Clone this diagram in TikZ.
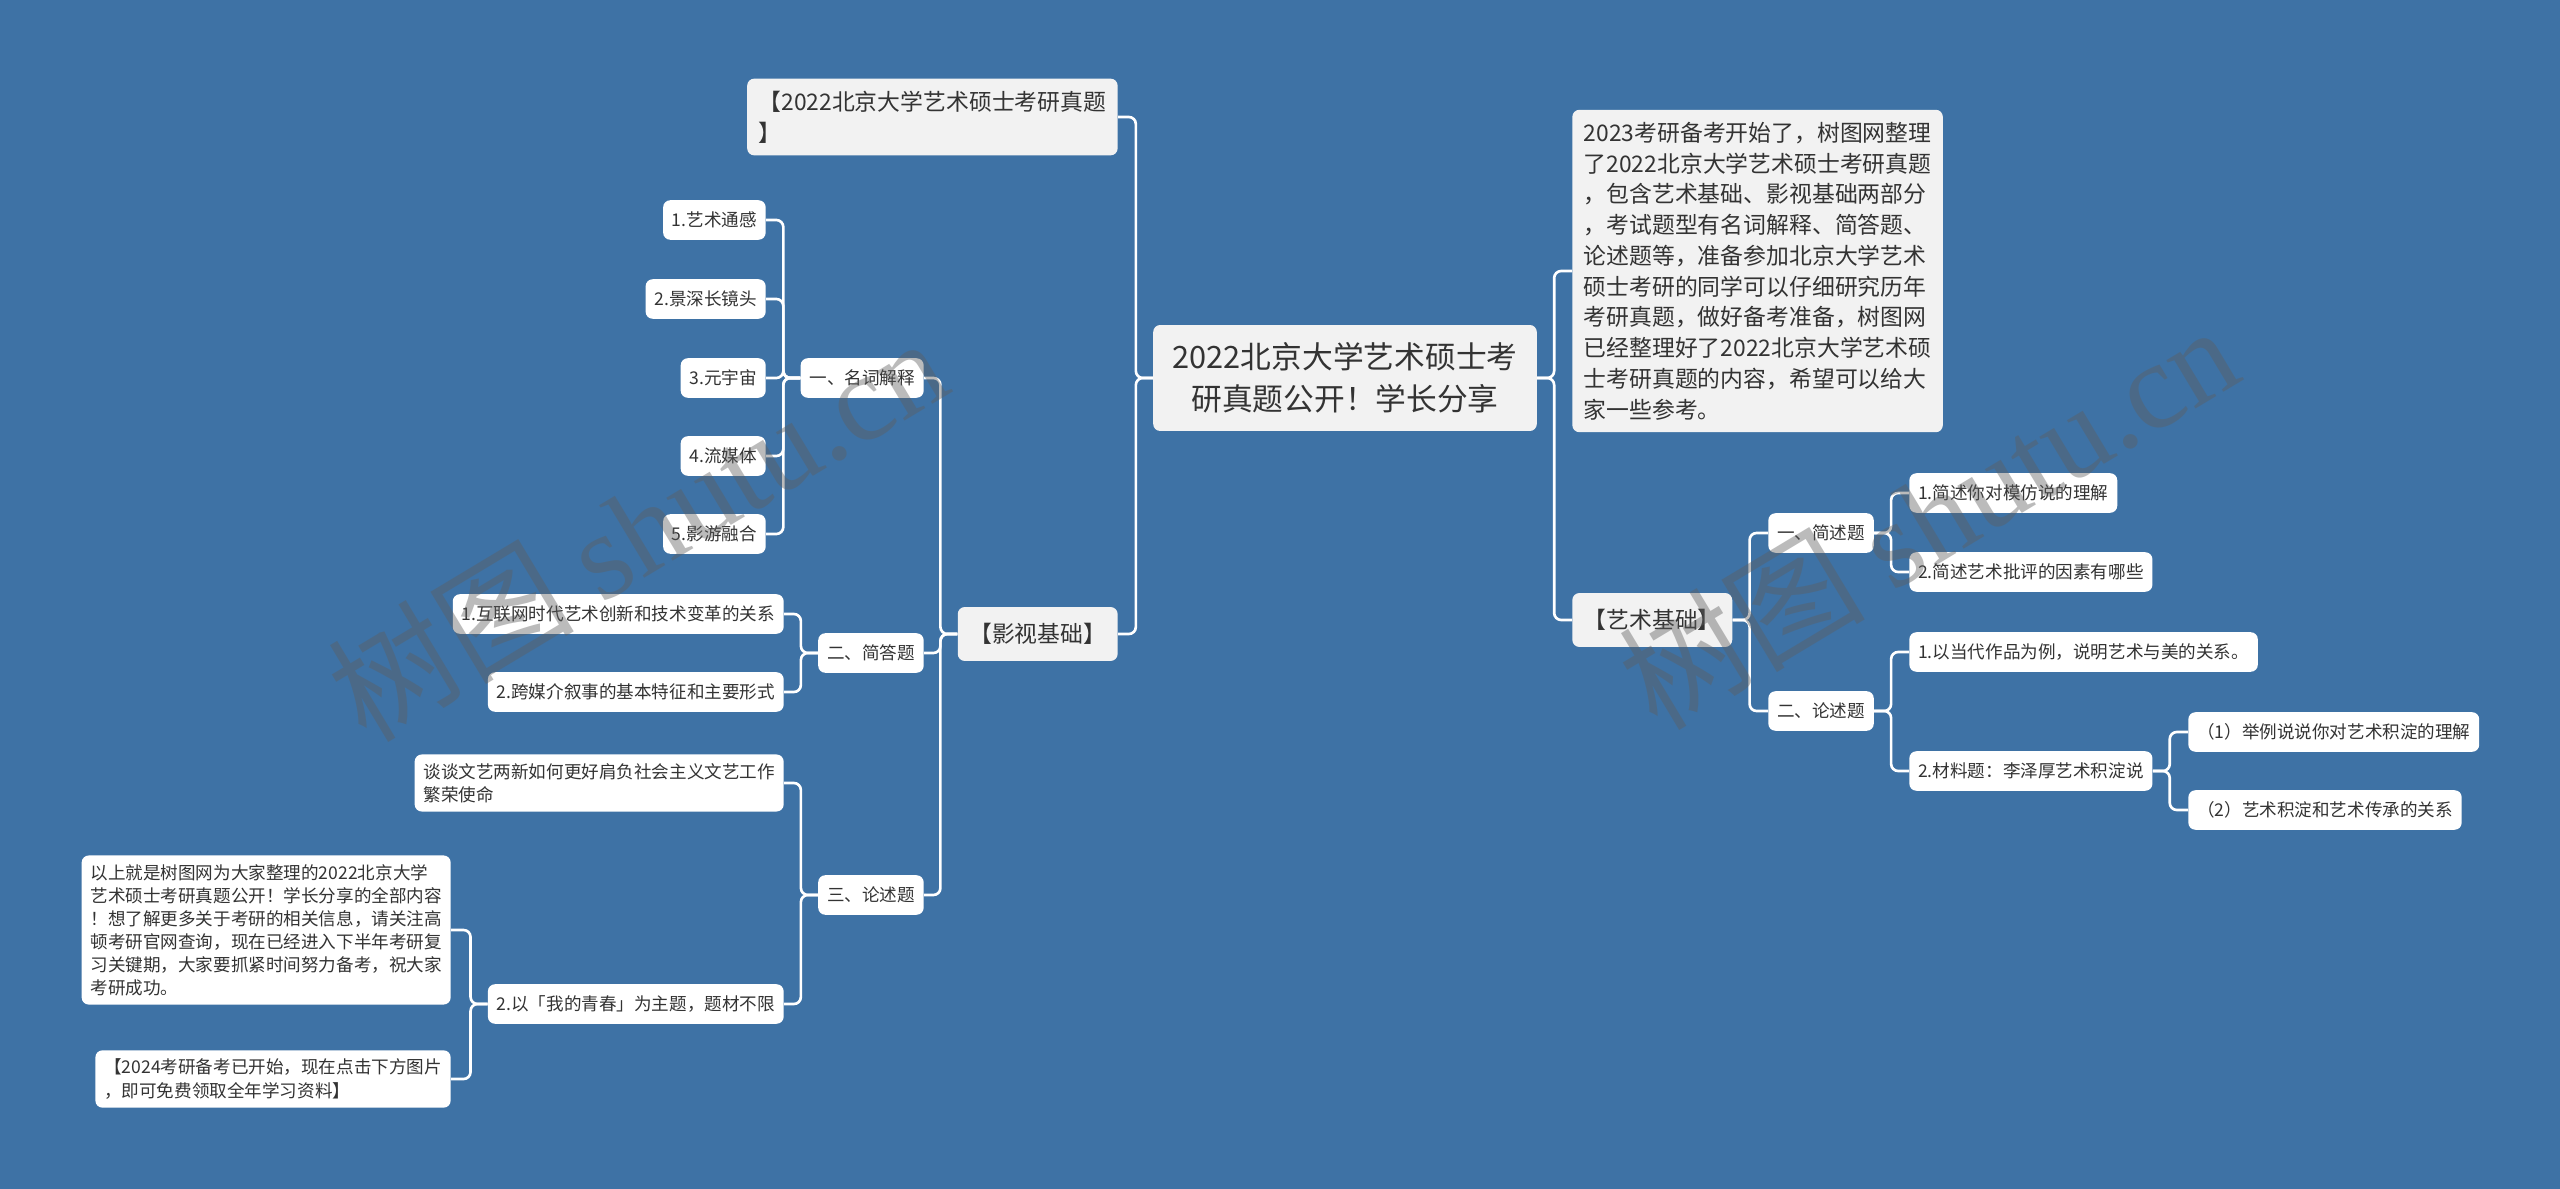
\documentclass[tikz,border=0pt]{standalone}
\usepackage{fontspec}
\setmainfont{Noto Sans CJK SC}
\newfontfamily\wmfont{Liberation Serif}
\usepackage{xcolor}
\usepackage{tikz}
\usetikzlibrary{positioning}
\definecolor{bgblue}{HTML}{3E72A5}
\definecolor{boxgray}{HTML}{F2F2F2}
\definecolor{txtgray}{HTML}{333333}
\definecolor{wmgray}{HTML}{5E5E5E}

\begin{document}
\begin{tikzpicture}[transform shape,scale=1,x=0.02cm,y=-0.02cm,
	rootbox/.style={fill=boxgray,rounded corners=4pt,text=txtgray,align=center,inner xsep=11pt,inner ysep=10pt,font=\fontsize{17.5}{24}\selectfont},
	topicbox/.style={fill=boxgray,rounded corners=4pt,text=txtgray,align=left,inner xsep=6.5pt,inner ysep=7pt,minimum height=30.7pt,font=\fontsize{13}{17.5}\selectfont},
	leafbox/.style={fill=white,rounded corners=4pt,text=txtgray,align=left,inner xsep=5pt,inner ysep=5pt,minimum height=22.5pt,font=\fontsize{10}{13.1}\selectfont},
	linkline/.style={draw=white,line width=1.5pt,rounded corners=4pt},
	wmtext/.style={text=wmgray,text opacity=0.42,rotate=31,font=\fontsize{70}{70}\selectfont}]
	\fill[bgblue] (0,0) rectangle (2560,1189);
	\useasboundingbox (0,0) rectangle (2560,1189);
	\node[rootbox] (root) at (1345,378) {2022北京大学艺术硕士考\\研真题公开！学长分享};
	\node[topicbox,anchor=east] (zhenti) at (1118,117) {【2022北京大学艺术硕士考研真题\\】};
	\node[topicbox,anchor=east] (yingshi) at (1118,634) {【影视基础】};
	\node[leafbox,anchor=east] (mingci) at (924,378) {一、名词解释};
	\node[leafbox,anchor=east] (jianda) at (924,653) {二、简答题};
	\node[leafbox,anchor=east] (lunshuL) at (924,895) {三、论述题};
	\node[leafbox,anchor=east] (mc1) at (766,220) {1.艺术通感};
	\node[leafbox,anchor=east] (mc2) at (766,299) {2.景深长镜头};
	\node[leafbox,anchor=east] (mc3) at (766,378) {3.元宇宙};
	\node[leafbox,anchor=east] (mc4) at (766,456) {4.流媒体};
	\node[leafbox,anchor=east] (mc5) at (766,534) {5.影游融合};
	\node[leafbox,anchor=east] (jd1) at (784,614) {1.互联网时代艺术创新和技术变革的关系};
	\node[leafbox,anchor=east] (jd2) at (784,692) {2.跨媒介叙事的基本特征和主要形式};
	\node[leafbox,anchor=east] (lsL1) at (784,783) {谈谈文艺两新如何更好肩负社会主义文艺工作\\繁荣使命};
	\node[leafbox,anchor=east] (lsL2) at (784,1004) {2.以「我的青春」为主题，题材不限};
	\node[leafbox,anchor=east] (summary) at (451,930) {以上就是树图网为大家整理的2022北京大学\\艺术硕士考研真题公开！学长分享的全部内容\\！想了解更多关于考研的相关信息，请关注高\\顿考研官网查询，现在已经进入下半年考研复\\习关键期，大家要抓紧时间努力备考，祝大家\\考研成功。};
	\node[leafbox,anchor=east] (promo) at (451,1079) {【2024考研备考已开始，现在点击下方图片\\，即可免费领取全年学习资料】};
	\node[topicbox,anchor=west] (intro) at (1572,271) {2023考研备考开始了，树图网整理\\了2022北京大学艺术硕士考研真题\\，包含艺术基础、影视基础两部分\\，考试题型有名词解释、简答题、\\论述题等，准备参加北京大学艺术\\硕士考研的同学可以仔细研究历年\\考研真题，做好备考准备，树图网\\已经整理好了2022北京大学艺术硕\\士考研真题的内容，希望可以给大\\家一些参考。};
	\node[topicbox,anchor=west] (yishu) at (1572,620) {【艺术基础】};
	\node[leafbox,anchor=west] (jianshu) at (1768,533) {一、简述题};
	\node[leafbox,anchor=west] (lunshuR) at (1768,711) {二、论述题};
	\node[leafbox,anchor=west] (js1) at (1909,493) {1.简述你对模仿说的理解};
	\node[leafbox,anchor=west] (js2) at (1909,572) {2.简述艺术批评的因素有哪些};
	\node[leafbox,anchor=west] (lsR1) at (1909,652) {1.以当代作品为例，说明艺术与美的关系。};
	\node[leafbox,anchor=west] (lsR2) at (1909,771) {2.材料题：李泽厚艺术积淀说};
	\node[leafbox,anchor=west] (jd21) at (2188,732) {（1）举例说说你对艺术积淀的理解};
	\node[leafbox,anchor=west] (jd22) at (2188,810) {（2）艺术积淀和艺术传承的关系};
	\foreach \c in {zhenti,yingshi} \draw[linkline] (root.west) -- ++(-17,0) |- (\c.east);
	\foreach \c in {mingci,jianda,lunshuL} \draw[linkline] (yingshi.west) -- ++(-17,0) |- (\c.east);
	\foreach \c in {mc1,mc2,mc3,mc4,mc5} \draw[linkline] (mingci.west) -- ++(-17,0) |- (\c.east);
	\foreach \c in {jd1,jd2} \draw[linkline] (jianda.west) -- ++(-17,0) |- (\c.east);
	\foreach \c in {lsL1,lsL2} \draw[linkline] (lunshuL.west) -- ++(-17,0) |- (\c.east);
	\foreach \c in {summary,promo} \draw[linkline] (lsL2.west) -- ++(-17,0) |- (\c.east);
	\foreach \c in {intro,yishu} \draw[linkline] (root.east) -- ++(17,0) |- (\c.west);
	\foreach \c in {jianshu,lunshuR} \draw[linkline] (yishu.east) -- ++(17,0) |- (\c.west);
	\foreach \c in {js1,js2} \draw[linkline] (jianshu.east) -- ++(17,0) |- (\c.west);
	\foreach \c in {lsR1,lsR2} \draw[linkline] (lunshuR.east) -- ++(17,0) |- (\c.west);
	\foreach \c in {jd21,jd22} \draw[linkline] (lsR2.east) -- ++(17,0) |- (\c.west);
	\node[wmtext] (wmleft) at (637,528) {树图 {\wmfont shutu.cn}};
	\node[wmtext] (wmright) at (1928,516) {树图 {\wmfont shutu.cn}};
\end{tikzpicture}
\end{document}
